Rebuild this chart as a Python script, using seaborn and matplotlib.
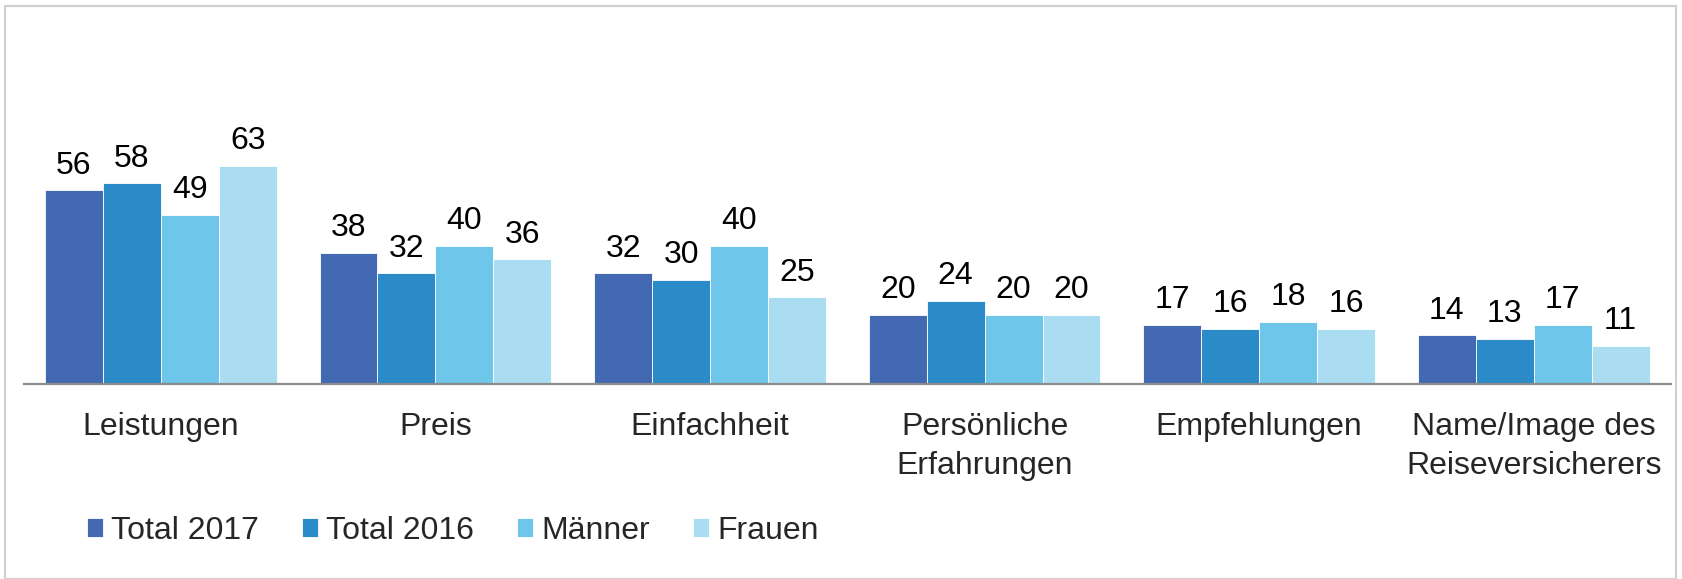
import pandas as pd
import matplotlib
matplotlib.use("Agg")
import matplotlib.pyplot as plt
import seaborn as sns

# Data
categories = ["Leistungen", "Preis", "Einfachheit", "Persönliche\nErfahrungen",
              "Empfehlungen", "Name/Image des\nReiseversicherers"]
series = ["Total 2017", "Total 2016", "Männer", "Frauen"]
total_2017 = [56, 38, 32, 20, 17, 14]
total_2016 = [58, 32, 30, 24, 16, 13]
maenner = [49, 40, 40, 20, 18, 17]
frauen = [63, 36, 25, 20, 16, 11]
colors = ["#4269B2", "#2B8BC8", "#6EC6EA", "#AADDF2"]

df = pd.DataFrame({
    "Kategorie": categories * 4,
    "Gruppe": [s for s in series for _ in categories],
    "Wert": total_2017 + total_2016 + maenner + frauen,
})

sns.set_style("white")
plt.rcParams["font.family"] = ["Liberation Sans", "DejaVu Sans"]

fig = plt.figure(figsize=(16.82, 5.79), dpi=100)
ax = fig.add_axes([0.014, 0.337, 0.9795, 0.597])

sns.barplot(data=df, x="Kategorie", y="Wert", hue="Gruppe", order=categories,
            hue_order=series, palette=colors, width=0.844, saturation=1,
            edgecolor="white", linewidth=0.6, ax=ax)

# value labels above bars
for c in ax.containers:
    ax.bar_label(c, fmt="%d", fontsize=23, padding=7, color="black")

ax.set_ylim(0, 100)
ax.set_xlim(-0.5, 5.5)
ax.set_xlabel("")
ax.set_ylabel("")
ax.set_yticks([])
for s in ["top", "right", "left"]:
    ax.spines[s].set_visible(False)
ax.spines["bottom"].set_color("#8C8C8C")
ax.spines["bottom"].set_linewidth(1.6)
ax.tick_params(axis="x", length=0, pad=20, labelsize=23)
for lbl in ax.get_xticklabels():
    lbl.set_multialignment("center")
    lbl.set_linespacing(1.4)

# legend at the bottom, no frame
handles, labels = ax.get_legend_handles_labels()
ax.legend_.remove()
fig.legend(handles, labels, loc="center left", bbox_to_anchor=(0.052, 0.083),
           ncol=4, frameon=False, fontsize=23, handlelength=0.5,
           handleheight=0.5, handletextpad=0.25, columnspacing=1.35,
           borderaxespad=0, borderpad=0)

# thin light gray border round the figure
fig.patches.append(plt.Rectangle((0.003, 0.0), 0.9935, 0.99, transform=fig.transFigure,
                                 fill=False, edgecolor="#D0D0D0", linewidth=1.5))

fig.savefig("out.png", dpi=100)
